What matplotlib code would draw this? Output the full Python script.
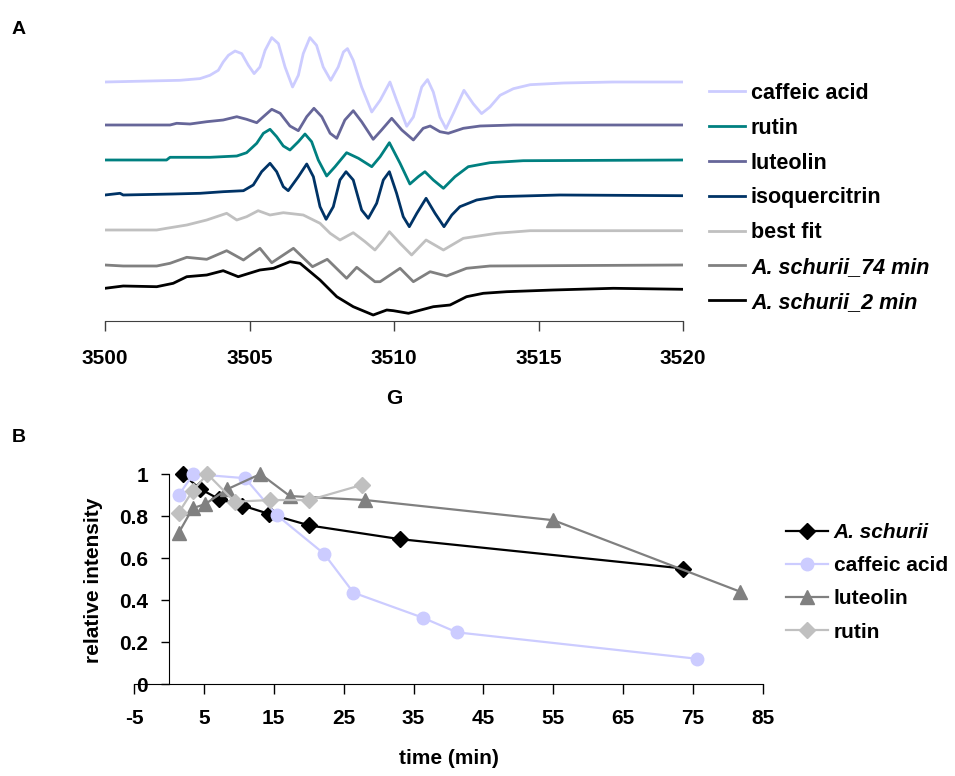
import matplotlib
matplotlib.use("Agg")
import matplotlib.pyplot as plt

plt.rcParams["font.family"] = ["Liberation Sans", "DejaVu Sans"]
plt.rcParams["font.weight"] = "bold"
plt.rcParams["axes.unicode_minus"] = False

# -------------------------
# Panel A data: EPR spectra (field in G, signal relative to own baseline)
# -------------------------
caffeic_G = [3500.00, 3502.60, 3503.29, 3503.63, 3503.92, 3504.09, 3504.27, 3504.50, 3504.73,
             3504.96, 3505.16, 3505.36, 3505.54, 3505.77, 3506.00, 3506.23, 3506.49, 3506.69,
             3506.86, 3507.09, 3507.32, 3507.55, 3507.81, 3508.07, 3508.25, 3508.39, 3508.59,
             3508.88, 3509.23, 3509.52, 3509.86, 3510.09, 3510.44, 3510.67, 3510.96, 3511.16,
             3511.36, 3511.59, 3511.80, 3512.05, 3512.42, 3512.74, 3513.03, 3513.32, 3513.67,
             3514.13, 3514.71, 3515.86, 3517.59, 3520.00]
caffeic_I = [0, 1.7, 3.4, 6.7, 11.7, 20, 26.7, 31, 28.4,
             16.7, 8.4, 15, 31.7, 44.4, 38.4, 15, -5, 6.7,
             28.4, 44.4, 36.7, 15, 1.7, 15, 30, 33.4, 21.7,
             -5, -30, -18.3, 0, -18.3, -44.3, -35, -5, 2.4,
             -10, -35, -46.6, -31.6, -8.3, -21.7, -31.6, -25, -13.3,
             -6.7, -2.7, -1, 0, 0]

luteolin_G = [3500.00, 3502.25, 3502.48, 3502.94, 3503.52, 3504.09, 3504.56, 3504.90, 3505.25,
              3505.48, 3505.77, 3506.06, 3506.40, 3506.69, 3506.98, 3507.23, 3507.50, 3507.79,
              3508.02, 3508.30, 3508.59, 3508.88, 3509.28, 3509.57, 3509.92, 3510.27, 3510.67,
              3511.01, 3511.25, 3511.59, 3511.88, 3512.40, 3512.98, 3514.13, 3520.00]
luteolin_I = [0, 0, 1.7, 1, 3.3, 5, 8.3, 5.7, 2.3,
              8.3, 15.7, 11.7, -1, -5.7, 8.3, 16.7, 8.3, -8.3,
              -13.3, 5, 14.3, 3.3, -14.3, -5, 6.7, -5, -15,
              -3.3, -1, -6.7, -8.3, -3.3, -1, 0, 0]

rutin_G = [3500.00, 3502.13, 3502.25, 3503.63, 3504.56, 3504.90, 3505.25, 3505.48, 3505.71,
           3505.94, 3506.17, 3506.40, 3506.69, 3506.92, 3507.15, 3507.38, 3507.67, 3507.96,
           3508.36, 3508.77, 3509.23, 3509.52, 3509.84, 3510.21, 3510.55, 3510.84, 3511.07,
           3511.36, 3511.71, 3512.11, 3512.57, 3513.32, 3514.47, 3520.00]
rutin_I = [0, 0, 2.7, 2.7, 4, 7.3, 16.7, 26.7, 30.7,
           23.3, 14, 10, 18.3, 26, 18.3, 0, -16, -6.7,
           7.3, 1.7, -6.7, 3.3, 17.3, -3.3, -24, -16.7, -11.7,
           -20, -28.3, -16.7, -6.7, -2.7, -0.7, 0]

isoq_G = [3500.00, 3500.52, 3500.63, 3502.36, 3503.29, 3504.09, 3504.79, 3505.13, 3505.42,
          3505.71, 3505.94, 3506.17, 3506.34, 3506.69, 3506.98, 3507.21, 3507.44, 3507.65,
          3507.90, 3508.13, 3508.34, 3508.59, 3508.88, 3509.11, 3509.40, 3509.63, 3509.84,
          3510.09, 3510.32, 3510.53, 3510.79, 3511.11, 3511.42, 3511.73, 3512.00, 3512.28,
          3512.86, 3513.55, 3515.74, 3520.00]
isoq_I = [0, 1.7, 0, 1, 1.7, 3.3, 4.3, 10, 23.3,
          31.7, 23.3, 8.3, 4.3, 18.3, 31, 18.3, -11.7, -24.3,
          -11.7, 15, 23.3, 15, -15, -23.3, -8.3, 15, 23.3,
          1.7, -21.7, -31.7, -18.3, -3.3, -18.3, -31.7, -20, -11.7,
          -5, -1.7, 0, -0.7]

fit_G = [3500.00, 3501.79, 3502.13, 3502.83, 3503.52, 3504.21, 3504.56, 3504.90, 3505.30,
         3505.71, 3506.17, 3506.86, 3507.44, 3507.79, 3508.13, 3508.59, 3509.00, 3509.34,
         3509.63, 3509.84, 3510.21, 3510.61, 3511.11, 3511.71, 3512.40, 3513.55, 3514.71,
         3520.00]
fit_I = [0, 0, 1.7, 5, 10, 16.7, 10, 13.3, 19.3,
         15, 17.3, 15, 6.7, -3.3, -10, -2.7, -11.7, -20,
         -10, -1.7, -13.3, -25, -10, -20, -8.3, -3.3, -0.7,
         -0.7]

s74_G = [3500.00, 3500.63, 3501.79, 3502.25, 3502.83, 3503.52, 3504.21, 3504.79, 3505.36,
         3505.77, 3506.52, 3507.18, 3507.69, 3508.36, 3508.71, 3509.34, 3509.52, 3510.21,
         3510.67, 3511.25, 3511.82, 3512.51, 3513.32, 3520.00]
s74_I = [0, -1, -1, 1.7, 7.7, 5.7, 14.3, 5, 16.7,
         2.3, 16.7, -1.7, 5.7, -13.3, -2.3, -16.7, -16.7, -3.3,
         -16.7, -6.7, -11, -3.3, -1, 0]

s2_G = [3500.00, 3500.63, 3501.79, 3502.36, 3502.83, 3503.52, 3504.09, 3504.61, 3505.36,
        3505.83, 3506.40, 3506.75, 3507.44, 3508.02, 3508.59, 3509.28, 3509.75, 3509.98,
        3510.50, 3511.36, 3511.94, 3512.51, 3513.09, 3513.90, 3515.51, 3517.59, 3520.00]
s2_I = [-0.3, 2, 1.3, 4.7, 11.3, 13, 17.3, 11.3, 18,
        19.7, 26.3, 24.7, 8, -8.7, -18.7, -27, -22, -22.7,
        -25.3, -18.7, -17, -8.7, -5.3, -3.7, -2, -0.3, -1.3]

# stacking order top to bottom
spectra = [
    ("caffeic acid", caffeic_G, caffeic_I),
    ("luteolin", luteolin_G, luteolin_I),
    ("rutin", rutin_G, rutin_I),
    ("isoquercitrin", isoq_G, isoq_I),
    ("best fit", fit_G, fit_I),
    ("A. schurii_74 min", s74_G, s74_I),
    ("A. schurii_2 min", s2_G, s2_I),
]
offsets = [239, 196, 161, 126, 91, 56, 33]
legend_order_A = ["caffeic acid", "rutin", "luteolin", "isoquercitrin", "best fit",
                  "A. schurii_74 min", "A. schurii_2 min"]
colors_A = {
    "caffeic acid": "#ccccff",
    "luteolin": "#666699",
    "rutin": "#008080",
    "isoquercitrin": "#003366",
    "best fit": "#c0c0c0",
    "A. schurii_74 min": "#808080",
    "A. schurii_2 min": "#000000",
}

# -------------------------
# Panel B data: relative intensity vs time
# -------------------------
schurii_t = [2, 4.4, 7.2, 10.5, 14.3, 20.1, 33, 73.6]
schurii_y = [1.0, 0.93, 0.88, 0.85, 0.81, 0.755, 0.69, 0.55]

caffeic_t = [1.4, 3.5, 10.9, 15.4, 22.2, 26.4, 36.3, 41.2, 75.6]
caffeic_y = [0.90, 1.0, 0.98, 0.805, 0.62, 0.435, 0.316, 0.246, 0.12]

luteolin_t = [1.4, 3.4, 5.2, 8.3, 13.1, 17.3, 28.1, 55, 81.7]
luteolin_y = [0.72, 0.837, 0.857, 0.927, 1.0, 0.895, 0.876, 0.78, 0.44]

rutin_t = [1.4, 3.4, 5.5, 9.4, 14.5, 20.1, 27.6]
rutin_y = [0.816, 0.92, 1.0, 0.868, 0.876, 0.876, 0.948]

W, H = 955, 776
fig = plt.figure(figsize=(W / 100, H / 100), dpi=100)

# -------------------------
# Panel A
# -------------------------
axA = fig.add_axes([105 / W, 1 - 321 / H, 578 / W, 291 / H])
lines = {}
for (name, g, i), off in zip(spectra, offsets):
    ln, = axA.plot(g, [v + off for v in i], color=colors_A[name], lw=2.0,
                   solid_joinstyle="round", label=name)
    lines[name] = ln

axA.set_xlim(3500, 3520)
axA.set_ylim(0, 291)
for s in ["top", "right", "left"]:
    axA.spines[s].set_visible(False)
axA.spines["bottom"].set_color("#404040")
axA.set_yticks([])
axA.set_xticks([3500, 3505, 3510, 3515, 3520])
axA.tick_params(axis="x", direction="out", length=7, width=1, color="#404040",
                pad=13, labelsize=15)
axA.set_xlabel("G", fontsize=15, fontweight="bold", labelpad=15)

legA = fig.legend([lines[n] for n in legend_order_A], legend_order_A,
                  loc="upper left", bbox_to_anchor=(709 / W, 1 - 83 / H),
                  frameon=False, fontsize=15.5, handlelength=1.65, handletextpad=0.3,
                  labelspacing=0.64, borderpad=0, borderaxespad=0)
for t in legA.get_texts():
    if t.get_text().startswith("A. schurii"):
        t.set_fontstyle("italic")

fig.text(12 / W, 1 - 30 / H, "A", fontsize=14, fontweight="bold", va="center")
fig.text(12 / W, 1 - 437 / H, "B", fontsize=14, fontweight="bold", va="center")

# -------------------------
# Panel B
# -------------------------
axB = fig.add_axes([134 / W, 1 - 684 / H, 629 / W, 210 / H])
axB.plot(schurii_t, schurii_y, color="black", lw=1.6, marker="D", ms=8,
         label="A. schurii", clip_on=False)
axB.plot(caffeic_t, caffeic_y, color="#ccccff", lw=1.6, marker="o", ms=9,
         label="caffeic acid", clip_on=False)
axB.plot(luteolin_t, luteolin_y, color="#808080", lw=1.6, marker="^", ms=10,
         label="luteolin", clip_on=False)
axB.plot(rutin_t, rutin_y, color="#c0c0c0", lw=1.6, marker="D", ms=8,
         label="rutin", clip_on=False)

axB.set_xlim(-5, 85)
axB.set_ylim(0, 1)
axB.spines["left"].set_position(("data", 0))
for s in ["top", "right"]:
    axB.spines[s].set_visible(False)
axB.set_xticks(range(-5, 86, 10))
axB.set_yticks([0, 0.2, 0.4, 0.6, 0.8, 1.0])
axB.set_yticklabels(["0", "0.2", "0.4", "0.6", "0.8", "1"])
axB.tick_params(axis="x", direction="out", length=7, width=1, pad=11, labelsize=15)
axB.tick_params(axis="y", direction="out", length=6, width=1, pad=9, labelsize=15)
axB.set_xlabel("time (min)", fontsize=15, fontweight="bold", labelpad=15)
fig.text(93 / W, 1 - 580 / H, "relative intensity", rotation=90, fontsize=15,
         fontweight="bold", ha="center", va="center")

legB = axB.legend(loc="upper left", bbox_to_anchor=(786 / W, 1 - 523 / H),
                  bbox_transform=fig.transFigure, frameon=False, fontsize=15,
                  handlelength=2.0, handletextpad=0.3, labelspacing=0.68,
                  borderpad=0, borderaxespad=0)
legB.get_texts()[0].set_fontstyle("italic")

plt.savefig("out.png", dpi=100)
plt.close()
